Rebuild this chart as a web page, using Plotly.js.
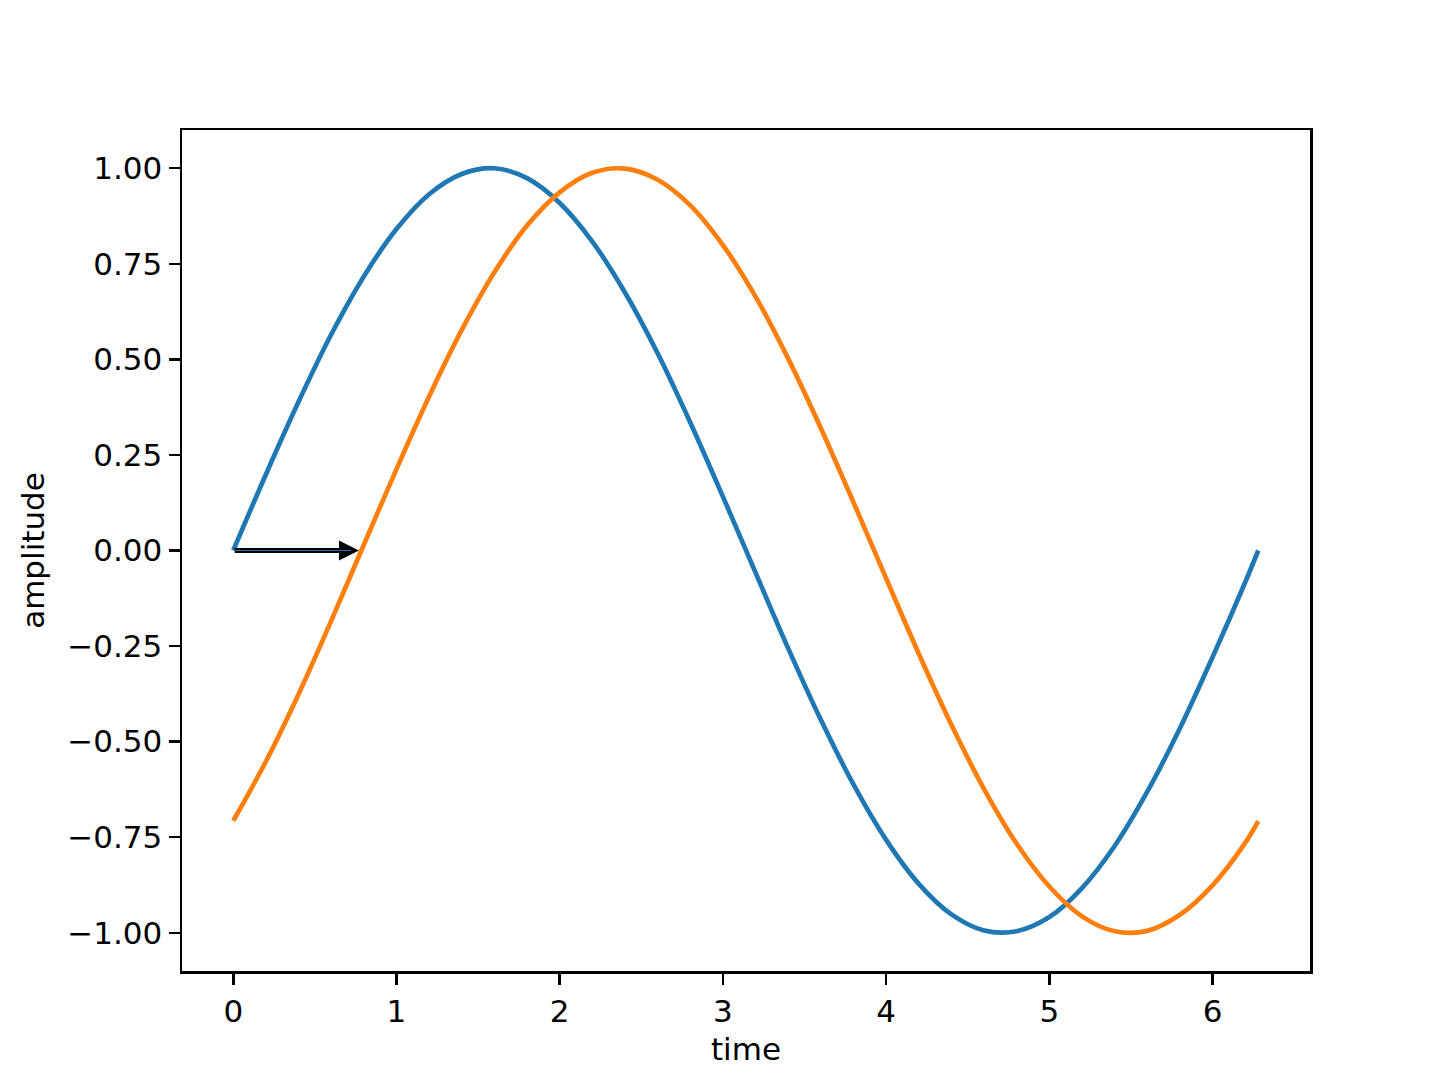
<!DOCTYPE html>
<html>
<head>
<meta charset="utf-8">
<script src="https://cdn.plot.ly/plotly-3.0.1.min.js"></script>
<style>
  html, body { margin: 0; padding: 0; background: #fff; }
  #chart { width: 1456px; height: 1092px; }
</style>
</head>
<body>
<div id="chart"></div>
<script>
  // values
  var time = [0, 0.2, 0.4, 0.6, 0.8, 1.0, 1.2, 1.4, 1.6, 1.8, 2.0, 2.2, 2.4, 2.6, 2.8, 3.0, 3.2,
              3.4, 3.6, 3.8, 4.0, 4.2, 4.4, 4.6, 4.8, 5.0, 5.2, 5.4, 5.6, 5.8, 6.0, 6.2, 6.28];
  var blueWave = [0, 0.199, 0.389, 0.565, 0.717, 0.841, 0.932, 0.985, 1.000, 0.974, 0.909, 0.808, 0.675,
                  0.516, 0.335, 0.141, -0.058, -0.256, -0.443, -0.612, -0.757, -0.872, -0.952, -0.994,
                  -0.996, -0.959, -0.883, -0.773, -0.631, -0.465, -0.279, -0.083, 0];
  var orangeWave = [-0.707, -0.552, -0.376, -0.184, 0.015, 0.213, 0.403, 0.577, 0.728, 0.850, 0.937, 0.988,
                    0.999, 0.970, 0.903, 0.799, 0.664, 0.502, 0.320, 0.126, -0.073, -0.270, -0.456, -0.624,
                    -0.767, -0.879, -0.957, -0.996, -0.995, -0.953, -0.876, -0.765, -0.708];

  var arrowStart = [0, 0];
  var arrowEnd = [0.77, 0];
  var arrowCoreEnd = [0.72, 0];

  var xTicks = [0, 1, 2, 3, 4, 5, 6];
  var xTickText = ['0', '1', '2', '3', '4', '5', '6'];
  var yTicks = [-1, -0.75, -0.5, -0.25, 0, 0.25, 0.5, 0.75, 1];
  var yTickText = ['\u22121.00', '\u22120.75', '\u22120.50', '\u22120.25', '0.00', '0.25', '0.50', '0.75', '1.00'];

  var font = 'DejaVu Sans, sans-serif';

  var blue = {
    x: time,
    y: blueWave,
    mode: 'lines',
    line: { shape: 'spline', smoothing: 1, color: '#1f77b4', width: 4.7 },
    type: 'scatter'
  };
  var orange = {
    x: time,
    y: orangeWave,
    mode: 'lines',
    line: { shape: 'spline', smoothing: 1, color: '#ff7f0e', width: 4.7 },
    type: 'scatter'
  };

  var axisStyle = {
    showline: true,
    mirror: true,
    linecolor: '#000',
    linewidth: 2.5,
    ticks: 'outside',
    ticklen: 11,
    tickwidth: 2.5,
    tickcolor: '#000',
    showgrid: false,
    zeroline: false,
    tickfont: { family: font, size: 31, color: '#000' }
  };

  var layout = {
    width: 1456,
    height: 1092,
    margin: { l: 182, r: 146, t: 130, b: 121 },
    paper_bgcolor: '#fff',
    plot_bgcolor: '#fff',
    showlegend: false,
    xaxis: Object.assign({}, axisStyle, {
      range: [-0.314, 6.597],
      tickvals: xTicks,
      ticktext: xTickText,
      title: { text: 'time', font: { family: font, size: 31, color: '#000' }, standoff: 11 }
    }),
    yaxis: Object.assign({}, axisStyle, {
      range: [-1.1, 1.1],
      tickvals: yTicks,
      ticktext: yTickText,
      title: { text: 'amplitude', font: { family: font, size: 31, color: '#000' }, standoff: 14 }
    }),
    annotations: [{
      x: arrowEnd[0], y: arrowEnd[1],
      ax: arrowStart[0], ay: arrowStart[1],
      xref: 'x', yref: 'y', axref: 'x', ayref: 'y',
      text: '',
      showarrow: true,
      arrowhead: 2,
      arrowsize: 0.8,
      arrowwidth: 5,
      arrowcolor: '#000'
    }, {
      // thin blue core seen inside the black arrow
      x: arrowCoreEnd[0], y: arrowCoreEnd[1],
      ax: arrowStart[0], ay: arrowStart[1],
      xref: 'x', yref: 'y', axref: 'x', ayref: 'y',
      text: '',
      showarrow: true,
      arrowhead: 0,
      arrowwidth: 1.2,
      arrowcolor: '#1f77b4'
    }]
  };

  Plotly.newPlot('chart', [blue, orange], layout, { displayModeBar: false, staticPlot: true });
</script>
</body>
</html>
